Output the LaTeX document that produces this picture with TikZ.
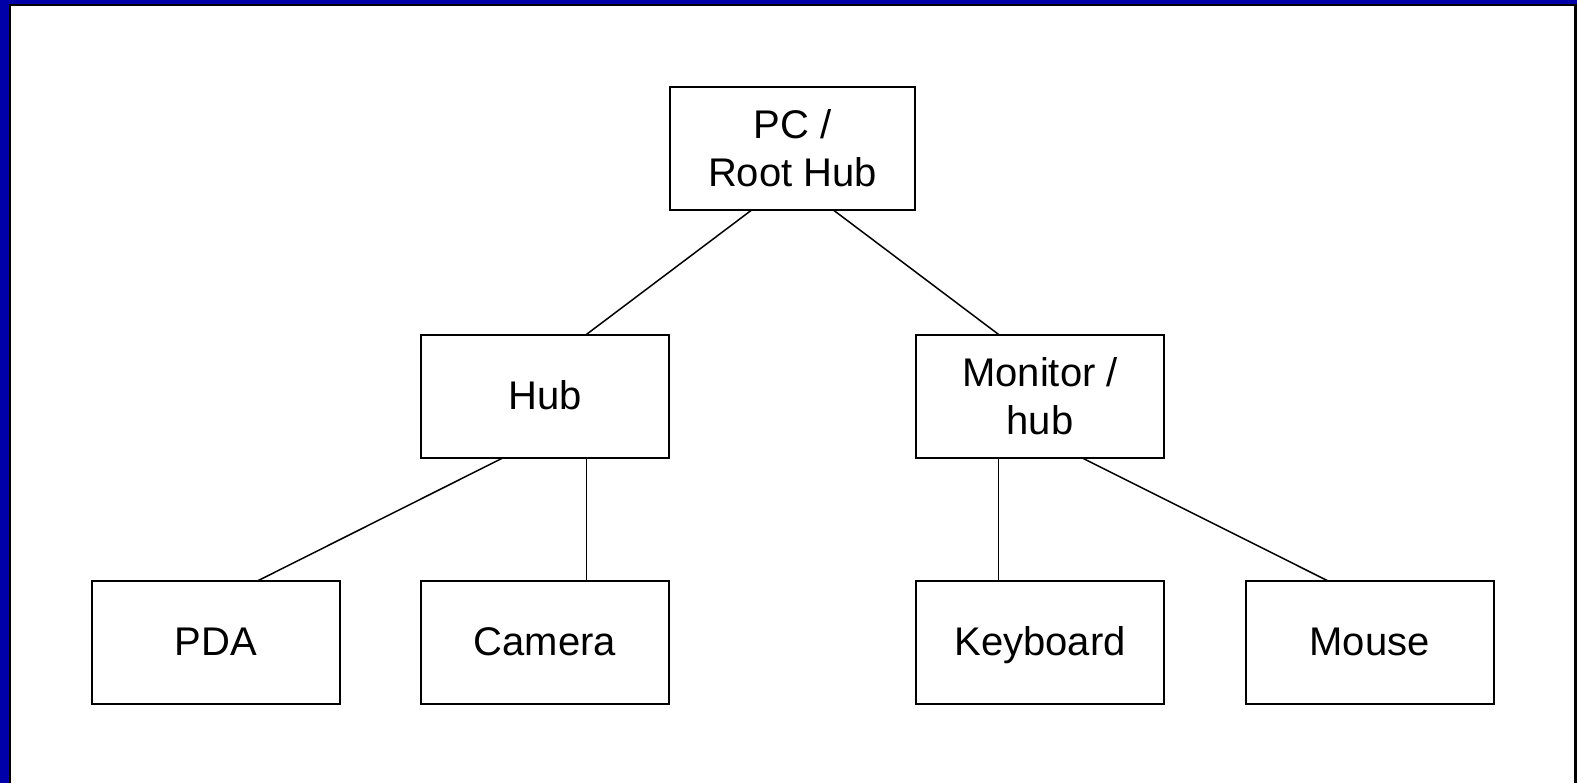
\documentclass[tikz,border=0pt]{standalone}
\usepackage{fontspec}
\setmainfont{Liberation Sans}
\usetikzlibrary{calc}
\definecolor{frameblue}{RGB}{0,0,168}
\begin{document}
\begin{tikzpicture}[x=0.5pt,y=-0.5pt,
  devbox/.style={draw=black,line width=1pt,fill=white,minimum width=124pt,minimum height=61.5pt,
    inner sep=0pt,outer sep=0pt,align=center,font=\fontsize{20}{24}\selectfont},
  oneline/.style={text height=16pt,text depth=2.7pt},
  link/.style={draw=black,line width=0.75pt}]
\useasboundingbox (0,0) rectangle (1577,783);
\fill[frameblue] (0,0) rectangle (1577,783);
\fill[black] (9,4) rectangle (1577,783);
\fill[white] (11,6) rectangle (1574,783);
\node[devbox,minimum width=122.5pt] (pc) at (792.5,148.5) {PC /\\Root Hub};
\node[devbox,oneline] (hub) at (545,396) {Hub};
\node[devbox] (mon) at (1040,396) {Monitor /\\hub};
\node[devbox,oneline] (pda) at (216,642.5) {PDA};
\node[devbox,oneline] (cam) at (545,642.5) {Camera};
\node[devbox,oneline] (kbd) at (1040,642.5) {Keyboard};
\node[devbox,oneline] (mouse) at (1369.5,642.5) {Mouse};
\draw[link] ($(pc.south west)!1/3!(pc.south east)$) -- ($(hub.north west)!2/3!(hub.north east)$);
\draw[link] ($(pc.south west)!2/3!(pc.south east)$) -- ($(mon.north west)!1/3!(mon.north east)$);
\draw[link] ($(hub.south west)!1/3!(hub.south east)$) -- ($(pda.north west)!2/3!(pda.north east)$);
\draw[link] ($(hub.south west)!2/3!(hub.south east)$) -- ($(cam.north west)!2/3!(cam.north east)$);
\draw[link] ($(mon.south west)!1/3!(mon.south east)$) -- ($(kbd.north west)!1/3!(kbd.north east)$);
\draw[link] ($(mon.south west)!2/3!(mon.south east)$) -- ($(mouse.north west)!1/3!(mouse.north east)$);
\end{tikzpicture}
\end{document}
